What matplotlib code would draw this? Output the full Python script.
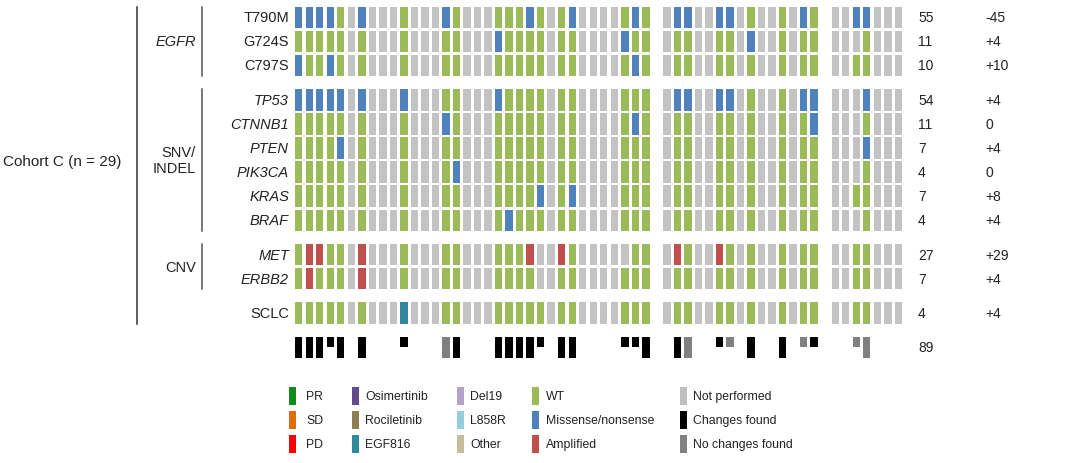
import matplotlib
matplotlib.use("Agg")
import matplotlib.pyplot as plt
from matplotlib.patches import Rectangle

plt.rcParams['font.family'] = ['Liberation Sans', 'DejaVu Sans']

# ---------------- data ----------------
row_labels = ['T790M', 'G724S', 'C797S', 'TP53', 'CTNNB1', 'PTEN', 'PIK3CA',
              'KRAS', 'BRAF', 'MET', 'ERBB2', 'SCLC']
row_italic = [False, False, False, True, True, True, True, True, True, True, True, False]
row_group = [0, 0, 0, 1, 1, 1, 1, 1, 1, 2, 2, 3]
group_labels = ['EGFR', 'SNV/\nINDEL', 'CNV']
group_italic = [True, False, False]
counts = ['55', '11', '10', '54', '11', '7', '4', '7', '4', '27', '7', '4']
changes = ['-45', '+4', '+10', '+4', '0', '+4', '0', '+8', '+4', '+29', '+4', '+4']
total_count = '89'
cohort_label = 'Cohort C (n = 29)'

# cell states: G=WT, B=missense/nonsense, N=not performed, R=amplified, T=EGF816, .=empty column
T790M  = "BBBBGNBNNNGNNNBGNNNG" + "GGBGNGBNNNNGBG" + "." + "NBBNNBBNGNNGNBG" + "." + "NNBBNNN"
G724S  = "GGGGGNGNNNGNNNGGNNNB" + "GGGGNGGNNNNBGG" + "." + "NGGNNGGNBNNGNGG" + "." + "NNNGNNN"
C797S  = "BGGBGNGNNNGNNNGGNNNG" + "GGGGNGGNNNNGBG" + "." + "NGGNNGGNGNNGNGG" + "." + "NNGGNNN"
TP53   = "BBBBBNBNNNBNNNGGNNNB" + "GGGGNGGNNNNGGG" + "." + "NBBNNBBNGNNGNBB" + "." + "NNNBNNN"
CTNNB1 = "GGGGGNGNNNGNNNBGNNNG" + "GGGGNGGNNNNGBG" + "." + "NGGNNGGNGNNGNGB" + "." + "NNNGNNN"
PTEN   = "GGGGBNGNNNGNNNGGNNNG" + "GGGGNGGNNNNGGG" + "." + "NGGNNGGNGNNGNGG" + "." + "NNNBNNN"
PIK3CA = "GGGGGNGNNNGNNNGBNNNG" + "GGGGNGGNNNNGGG" + "." + "NGGNNGGNGNNGNGG" + "." + "NNNGNNN"
KRAS   = "GGGGGNGNNNGNNNGGNNNG" + "GGGBNGBNNNNGGG" + "." + "NGGNNGGNGNNGNGG" + "." + "NNGGNNN"
BRAF   = "GGGGGNGNNNGNNNGGNNNG" + "BGGGNGGNNNNGGG" + "." + "NGGNNGGNGNNGNGG" + "." + "NNNGNNN"
MET    = "GRRGGNRNNNGNNNGGNNNG" + "GGRNNRGNNNNNGG" + "." + "NRGNNRGNGNNGNGG" + "." + "NNGGNNN"
ERBB2  = "GRGGGNRNNNGNNNGGNNNG" + "GGGNNGGNNNNGGG" + "." + "NGGNNGGNGNNGNGG" + "." + "NNGGNNN"
SCLC   = "GGGGGNGNNNTNNNGGNNNG" + "GGGGNGGNNNNGGG" + "." + "NGGNNGGNGNNGNGG" + "." + "NNGGNNN"
rows = [T790M, G724S, C797S, TP53, CTNNB1, PTEN, PIK3CA, KRAS, BRAF, MET, ERBB2, SCLC]

# summary row: K=changes found (full), k=changes found (half), D=no changes (full), d=no changes (half), -=none
summary = "KKKkK-K---k---DK---K" + "KKKk-KK----kkK" + "." + "-KD--kd-K--K-dk" + "." + "--dD---"

legend_cols = [
    [('PR', '#108a18'), ('SD', '#e46c0a'), ('PD', '#ff0000')],
    [('Osimertinib', '#5f4a8b'), ('Rociletinib', '#8c7f52'), ('EGF816', '#2e8b9e')],
    [('Del19', '#b3a2c7'), ('L858R', '#93cddd'), ('Other', '#c4bd97')],
    [('WT', '#9bbb59'), ('Missense/nonsense', '#4f81bd'), ('Amplified', '#c0504d')],
    [('Not performed', '#bfbfbf'), ('Changes found', '#000000'), ('No changes found', '#808080')],
]

cell_colors = {'G': '#9bbb59', 'B': '#4f81bd', 'N': '#c3c3c3', 'R': '#c0504d',
               'T': '#31859c', 'K': '#000000', 'k': '#000000', 'D': '#808080', 'd': '#808080'}

# ---------------- layout ----------------
W, H = 1080, 464
X0, PITCH, CW = 295.0, 10.52, 7.4
Y0, RPITCH, CH, GGAP = 7.5, 24.1, 21.5, 10.2

fig = plt.figure(figsize=(W / 100, H / 100), dpi=100)
ax = fig.add_axes([0, 0, 1, 1])
ax.set_xlim(0, W)
ax.set_ylim(H, 0)
ax.axis('off')


def row_top(i):
    return Y0 + RPITCH * i + GGAP * row_group[i]


ncol = len(rows[0])
xs = [X0 + PITCH * k + CW / 2 for k in range(ncol)]

for i, r in enumerate(rows):
    idx = [k for k, c in enumerate(r) if c != '.']
    ax.bar([xs[k] for k in idx], CH, bottom=row_top(i), width=CW,
           color=[cell_colors[r[k]] for k in idx], align='center', linewidth=0)
    yc = row_top(i) + CH / 2
    ax.text(289, yc, row_labels[i], ha='right', va='center', fontsize=10.5,
            style='italic' if row_italic[i] else 'normal', color='#222222')
    ax.text(918, yc, counts[i], ha='left', va='center', fontsize=10, color='#222222')
    ax.text(985, yc, changes[i], ha='left', va='center', fontsize=10, color='#222222')

# summary row
stop = row_top(len(rows) - 1) + RPITCH + GGAP
idx = [k for k, c in enumerate(summary) if c in 'KkDd']
ax.bar([xs[k] for k in idx], [CH if summary[k] in 'KD' else CH / 2 for k in idx],
       bottom=stop, width=CW, color=[cell_colors[summary[k]] for k in idx],
       align='center', linewidth=0)
ax.text(918, stop + CH / 2, total_count, ha='left', va='center', fontsize=10, color='#222222')

# group brackets
for g, lab in enumerate(group_labels):
    members = [i for i in range(len(rows)) if row_group[i] == g]
    top = row_top(members[0])
    bot = row_top(members[-1]) + CH
    ax.plot([202, 202], [top, bot], color='#555555', lw=1.1)
    ax.text(196, (top + bot) / 2, lab, ha='right', va='center', fontsize=10.5,
            style='italic' if group_italic[g] else 'normal', multialignment='right',
            color='#222222', linespacing=1.1)

ax.plot([137, 137], [row_top(0), row_top(len(rows) - 1) + CH], color='#333333', lw=1.1)
ax.text(3, 162, cohort_label, ha='left', va='center', fontsize=11, color='#222222')

# legend
leg_mx = [289, 352, 457, 532, 680]
leg_tx = [306, 365, 470, 546, 693]
leg_y = [397, 421, 445]
for c, items in enumerate(legend_cols):
    for r, (lab, col) in enumerate(items):
        ax.add_patch(Rectangle((leg_mx[c], leg_y[r] - 9), 7, 18, color=col, lw=0))
        ax.text(leg_tx[c], leg_y[r], lab, ha='left', va='center', fontsize=8.8, color='#222222')

fig.savefig('out.png', dpi=100)
